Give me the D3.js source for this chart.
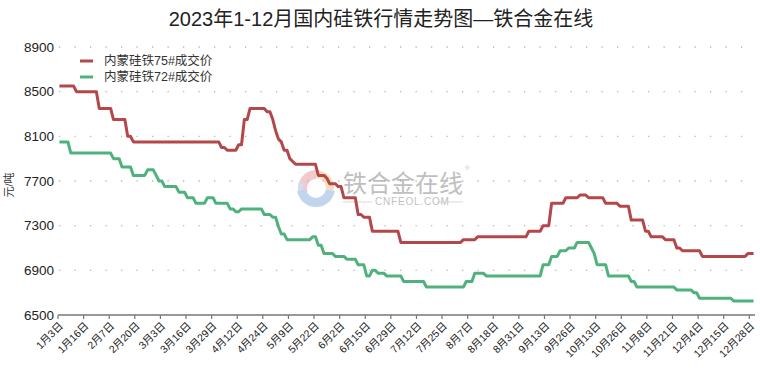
<!DOCTYPE html>
<html>
<head>
<meta charset="utf-8">
<script src="https://cdn.jsdelivr.net/npm/d3@7"></script>
<style>
  body { margin: 0; background: #fff; }
  text { font-family: "Liberation Sans", "Noto Sans CJK SC", sans-serif; }
</style>
</head>
<body>
<div id="chart"></div>
<script>
// x axis labels, one every 9 trading days
const xLabels = ['1月3日', '1月16日', '2月7日', '2月20日', '3月3日', '3月16日', '3月29日', '4月12日',
    '4月24日', '5月9日', '5月22日', '6月2日', '6月15日', '6月29日', '7月12日', '7月25日', '8月7日',
    '8月18日', '8月31日', '9月13日', '9月26日', '10月13日', '10月26日', '11月8日', '11月21日',
    '12月4日', '12月15日', '12月28日'];
const labelStep = 9;
const dayCount = 245;
const yTicks = [6500, 6900, 7300, 7700, 8100, 8500, 8900];

// price changes: trading day index where a new price starts, and that price
const days75 = [0, 6, 14, 19, 24, 26, 57, 59, 63, 65, 67, 73, 75, 76, 77, 78, 79, 81, 82, 83, 91, 94, 95,
    98, 100, 105, 107, 110, 120, 142, 147, 165, 170, 173, 178, 183, 186, 192, 197, 201, 206, 208, 213,
    217, 219, 226, 242];
const prices75 = [8550, 8500, 8350, 8250, 8100, 8050, 8000, 7975, 8025, 8250, 8350, 8320, 8250, 8150,
    8075, 8050, 7975, 7900, 7875, 7850, 7750, 7725, 7675, 7650, 7550, 7400, 7375, 7250, 7150, 7175, 7200,
    7250, 7300, 7500, 7550, 7575, 7550, 7500, 7475, 7350, 7250, 7200, 7175, 7100, 7075, 7025, 7050];

const days72 = [0, 4, 19, 22, 26, 31, 34, 35, 37, 42, 45, 48, 52, 55, 60, 62, 64, 72, 75, 77, 78, 80, 89,
    91, 93, 97, 101, 105, 108, 110, 112, 115, 121, 129, 143, 146, 150, 170, 173, 176, 179, 182, 187, 188,
    189, 193, 201, 203, 217, 223, 225, 237];
const prices72 = [8050, 7950, 7900, 7825, 7750, 7800, 7750, 7700, 7650, 7600, 7550, 7500, 7550, 7500,
    7450, 7425, 7450, 7400, 7375, 7290, 7225, 7175, 7200, 7125, 7050, 7025, 7000, 6950, 6850, 6900, 6875,
    6850, 6800, 6750, 6800, 6875, 6850, 6950, 7025, 7075, 7100, 7150, 7100, 7050, 6950, 6850, 6800, 6750,
    6725, 6700, 6650, 6625];

const seriesNames = ['内蒙硅铁75#成交价', '内蒙硅铁72#成交价'];
const seriesColors = ['#b4474a', '#4fb27c'];

const width = 760, height = 374;
const plotLeft = 58, plotRight = 755, plotTop = 47, plotBottom = 315;

// hold each price until the next change
function daily(days, prices) {
    const out = [];
    let j = 0;
    for (let d = 0; d < dayCount; d++) {
        while (j + 1 < days.length && days[j + 1] <= d) j++;
        out.push({ d: d, v: prices[j] });
    }
    return out;
}

const svg = d3.select('#chart').append('svg')
    .attr('width', width)
    .attr('height', height);

const x = d3.scaleLinear().domain([-0.5, dayCount - 0.5]).range([plotLeft, plotRight]);
const y = d3.scaleLinear().domain([6500, 8900]).range([plotBottom, plotTop]);

// title
svg.append('text')
    .attr('x', 381).attr('y', 26)
    .attr('text-anchor', 'middle')
    .attr('font-size', '20px')
    .attr('fill', '#222')
    .text('2023年1-12月国内硅铁行情走势图—铁合金在线');

// dotted grid
svg.append('g')
    .selectAll('line')
    .data(yTicks.filter(t => t !== 6500))
    .join('line')
    .attr('x1', plotLeft + 1).attr('x2', plotRight)
    .attr('y1', d => y(d)).attr('y2', d => y(d))
    .attr('stroke', '#b8b8b8')
    .attr('stroke-width', 1.3)
    .attr('stroke-dasharray', '1.3,14.2');

// y axis labels
svg.append('g')
    .selectAll('text')
    .data(yTicks)
    .join('text')
    .attr('x', 54).attr('y', d => y(d))
    .attr('dy', '0.35em')
    .attr('text-anchor', 'end')
    .attr('font-size', '13.5px')
    .attr('fill', '#222')
    .text(d => d);

svg.append('text')
    .attr('transform', 'translate(13,185) rotate(-90)')
    .attr('text-anchor', 'middle')
    .attr('font-size', '11px')
    .attr('fill', '#333')
    .text('元/吨');

// watermark
const wm = svg.append('g').attr('opacity', 0.55);
const arc = d3.arc();
const logo = wm.append('g').attr('transform', 'translate(316,188)');
logo.append('path')
    .attr('d', arc({ innerRadius: 9, outerRadius: 18, startAngle: -Math.PI * 0.62, endAngle: 0 }))
    .attr('fill', '#e9a0a4');
logo.append('path')
    .attr('d', arc({ innerRadius: 10, outerRadius: 18, startAngle: 0, endAngle: Math.PI * 0.55 }))
    .attr('fill', '#f2c08a');
logo.append('path')
    .attr('d', arc({ innerRadius: 10, outerRadius: 19, startAngle: Math.PI * 0.55, endAngle: Math.PI * 1.45 }))
    .attr('fill', '#8fb3e0');
logo.append('path')
    .attr('d', arc({ innerRadius: 13, outerRadius: 18, startAngle: Math.PI * 1.45, endAngle: Math.PI * 1.6 }))
    .attr('fill', '#a9c4e8');
wm.append('text')
    .attr('x', 343).attr('y', 192)
    .attr('font-size', '24px')
    .attr('fill', '#8c8c8c')
    .text('铁合金在线');
wm.append('text')
    .attr('x', 465).attr('y', 170)
    .attr('font-size', '6px')
    .attr('fill', '#8c8c8c')
    .text('®');
wm.append('text')
    .attr('x', 375).attr('y', 205)
    .attr('font-size', '10px')
    .attr('letter-spacing', '0.8px')
    .attr('fill', '#8c8c8c')
    .text('CNFEOL.COM');
wm.append('line').attr('x1', 343).attr('x2', 372).attr('y1', 202).attr('y2', 202)
    .attr('stroke', '#aaa').attr('stroke-width', 0.8);
wm.append('line').attr('x1', 437).attr('x2', 463).attr('y1', 202).attr('y2', 202)
    .attr('stroke', '#aaa').attr('stroke-width', 0.8);

// x axis
const tickDays = xLabels.map((_, i) => i * labelStep - 0.5);
const xAxis = svg.append('g');
xAxis.append('line')
    .attr('x1', plotLeft).attr('x2', plotRight)
    .attr('y1', plotBottom).attr('y2', plotBottom)
    .attr('stroke', '#777').attr('stroke-width', 1.5);
xAxis.selectAll('.tick')
    .data(tickDays)
    .join('line')
    .attr('class', 'tick')
    .attr('x1', d => x(d)).attr('x2', d => x(d))
    .attr('y1', plotBottom).attr('y2', plotBottom + 4)
    .attr('stroke', '#777').attr('stroke-width', 1.2);
xAxis.selectAll('.lbl')
    .data(xLabels)
    .join('text')
    .attr('class', 'lbl')
    .attr('transform', (d, i) => `translate(${x(tickDays[i]) + 3},${plotBottom + 9}) rotate(-45)`)
    .attr('text-anchor', 'end')
    .attr('dy', '0.35em')
    .attr('font-size', '10.5px')
    .attr('fill', '#222')
    .text(d => d);

// lines
const line = d3.line().x(d => x(d.d)).y(d => y(d.v));
const series = [daily(days75, prices75), daily(days72, prices72)];
svg.append('g')
    .selectAll('path')
    .data(series)
    .join('path')
    .attr('d', line)
    .attr('fill', 'none')
    .attr('stroke', (d, i) => seriesColors[i])
    .attr('stroke-width', 3)
    .attr('stroke-linejoin', 'round');

// legend
const legend = svg.append('g');
seriesNames.forEach((name, i) => {
    const ly = 61 + i * 16;
    legend.append('line')
        .attr('x1', 80).attr('x2', 93)
        .attr('y1', ly).attr('y2', ly)
        .attr('stroke', seriesColors[i])
        .attr('stroke-width', 3);
    legend.append('text')
        .attr('x', 104).attr('y', ly)
        .attr('dy', '0.35em')
        .attr('font-size', '12.5px')
        .attr('fill', '#333')
        .text(name);
});
</script>
</body>
</html>
